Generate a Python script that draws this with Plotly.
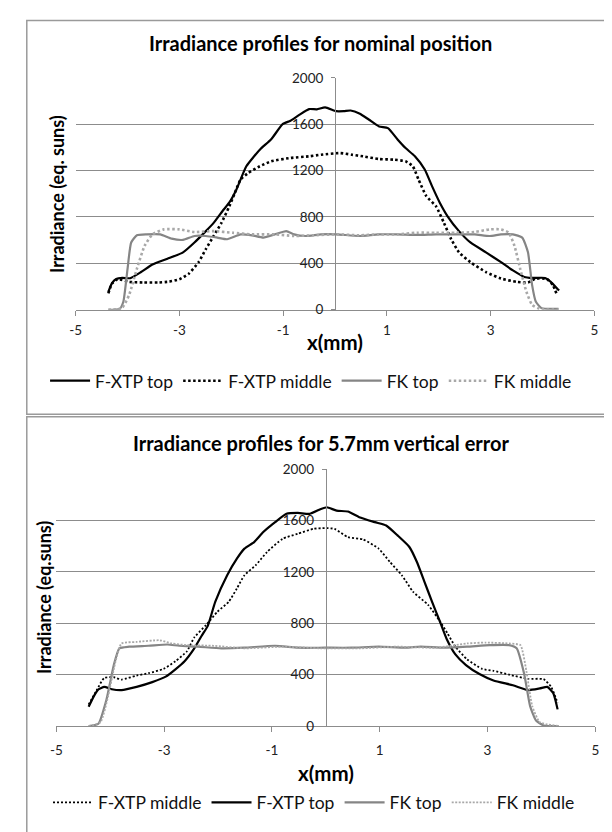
import plotly.graph_objects as go

W, H = 612, 832

# ---------------- Chart 1: nominal position ----------------
n_title = "Irradiance profiles for nominal position"
n_ytitle = "Irradiance (eq. suns)"

n_fxtp_top_x = [-4.37, -4.30, -4.22, -4.10, -3.95, -3.74, -3.52, -3.23, -2.93, -2.71, -2.49, -2.34, -2.15,
                -2.04, -1.90, -1.71, -1.45, -1.23, -1.01, -0.86, -0.69, -0.50, -0.35, -0.19, 0.02, 0.17,
                0.30, 0.48, 0.65, 0.85, 1.02, 1.21, 1.36, 1.54, 1.73, 1.87, 2.02, 2.17, 2.39, 2.61,
                2.91, 3.20, 3.43, 3.65, 3.80, 4.05, 4.16, 4.28, 4.32]
n_fxtp_top_y = [155, 230, 265, 274, 272, 325, 390, 440, 495, 580, 678, 749, 862,
                923, 1037, 1237, 1380, 1470, 1600, 1630, 1680, 1730, 1728, 1745, 1712, 1712,
                1718, 1690, 1640, 1580, 1566, 1466, 1394, 1323, 1209, 1066, 923, 806, 678, 580,
                495, 410, 339, 283, 274, 274, 240, 184, 165]

n_fxtp_mid_x = [-4.37, -4.30, -4.19, -3.97, -3.70, -3.40, -3.20, -3.00, -2.82, -2.63, -2.49, -2.34, -2.19,
                -2.04, -1.93, -1.82, -1.67, -1.45, -1.23, -0.86, -0.49, -0.27, 0.10, 0.32, 0.54, 0.84,
                1.13, 1.36, 1.50, 1.61, 1.76, 1.95, 2.10, 2.24, 2.39, 2.61, 2.91, 3.20, 3.50, 3.72,
                3.87, 4.09, 4.20, 4.28]
n_fxtp_mid_y = [141, 226, 263, 240, 235, 235, 242, 263, 311, 410, 523, 636, 749,
                890, 1009, 1123, 1180, 1237, 1280, 1309, 1323, 1337, 1351, 1337, 1323, 1300,
                1294, 1280, 1237, 1123, 980, 890, 749, 608, 495, 410, 325, 269, 240, 235,
                269, 263, 212, 127]

n_fk_top_x = [-4.37, -4.15, -4.08, -4.00, -3.93, -3.82, -3.63, -3.37, -3.15, -2.93, -2.71, -2.49, -2.27,
              -2.08, -1.82, -1.60, -1.38, -1.16, -0.94, -0.79, -0.57, -0.27, 0.03, 0.47, 0.84, 1.21,
              1.58, 1.95, 2.32, 2.69, 2.98, 3.20, 3.43, 3.61, 3.72, 3.80, 3.87, 3.98, 4.31]
n_fk_top_y = [0, 8, 71, 353, 580, 642, 650, 650, 613, 602, 636, 636, 622,
              608, 650, 642, 622, 650, 678, 650, 636, 650, 650, 636, 650, 650,
              645, 650, 650, 650, 636, 650, 650, 622, 495, 212, 71, 14, 8]

n_fk_mid_x = [-4.37, -4.11, -3.97, -3.82, -3.67, -3.52, -3.30, -3.00, -2.71, -2.34, -1.97, -1.60, -1.16,
              -0.79, -0.42, 0.03, 0.47, 0.84, 1.21, 1.58, 1.95, 2.32, 2.69, 2.98, 3.20, 3.35, 3.46,
              3.57, 3.69, 3.80, 3.94, 4.31]
n_fk_mid_y = [0, 14, 127, 353, 551, 650, 693, 693, 670, 678, 664, 650, 650,
              636, 642, 650, 642, 650, 650, 664, 664, 664, 670, 693, 693, 664, 551,
              353, 155, 42, 8, 0]

# ---------------- Chart 2: 5.7mm vertical error ----------------
v_title = "Irradiance profiles for 5.7mm vertical error"
v_ytitle = "Irradiance (eq.suns)"

v_fxtp_mid_x = [-4.40, -4.25, -4.11, -3.93, -3.79, -3.51, -3.29, -3.01, -2.79, -2.58, -2.44, -2.22, -2.01,
                -1.80, -1.65, -1.51, -1.30, -1.09, -0.80, -0.52, -0.23, -0.02, 0.16, 0.41, 0.69, 0.98,
                1.19, 1.41, 1.62, 1.90, 2.12, 2.26, 2.40, 2.62, 2.90, 3.11, 3.40, 3.75, 4.04, 4.18, 4.30]
v_fxtp_mid_y = [168, 280, 375, 380, 362, 393, 412, 445, 505, 580, 690, 787, 890,
                968, 1071, 1174, 1252, 1355, 1458, 1497, 1535, 1541, 1535, 1471, 1453, 1381,
                1277, 1174, 1045, 942, 813, 720, 620, 520, 445, 430, 400, 368, 365, 305, 180]

v_fxtp_top_x = [-4.40, -4.30, -4.22, -4.11, -3.97, -3.79, -3.51, -3.22, -2.97, -2.79, -2.62, -2.44, -2.30,
                -2.19, -2.05, -1.83, -1.65, -1.51, -1.33, -1.16, -0.94, -0.73, -0.52, -0.30, -0.09, 0.02,
                0.20, 0.41, 0.62, 0.91, 1.12, 1.33, 1.55, 1.69, 1.83, 1.97, 2.12, 2.24, 2.40, 2.60,
                2.85, 3.11, 3.47, 3.75, 3.97, 4.11, 4.22, 4.30]
v_fxtp_top_y = [150, 235, 285, 305, 287, 280, 305, 342, 385, 442, 505, 605, 705,
                780, 968, 1174, 1303, 1381, 1432, 1510, 1587, 1652, 1659, 1652, 1690, 1703,
                1677, 1670, 1626, 1587, 1561, 1484, 1394, 1277, 1123, 968, 810, 680, 560, 475,
                405, 355, 318, 280, 293, 305, 255, 130]

v_fk_top_x = [-4.40, -4.22, -4.07, -3.93, -3.83, -3.65, -3.29, -2.94, -2.72, -2.37, -1.94, -1.51, -0.94,
              -0.52, -0.02, 0.48, 0.98, 1.48, 1.76, 2.19, 2.62, 3.04, 3.40, 3.54, 3.68, 3.79, 3.90,
              4.04, 4.32]
v_fk_top_y = [0, 18, 205, 480, 605, 618, 625, 635, 625, 618, 605, 610, 625,
              610, 610, 610, 618, 610, 618, 610, 618, 630, 630, 605, 405, 155, 43,
              5, 0]

v_fk_mid_x = [-4.40, -4.18, -4.04, -3.90, -3.79, -3.51, -3.08, -2.86, -2.58, -2.08, -1.51, -0.80, -0.09,
              0.62, 1.33, 2.05, 2.62, 2.97, 3.40, 3.61, 3.72, 3.83, 3.97, 4.32]
v_fk_mid_y = [0, 30, 230, 505, 643, 655, 668, 643, 630, 625, 605, 618, 605,
              605, 618, 610, 643, 650, 643, 630, 430, 155, 30, 0]

x_ticks = [-5, -3, -1, 1, 3, 5]
y_ticks = [0, 400, 800, 1200, 1600, 2000]

FONT = "Lato"
BLACK = "#000000"
GRAY = "#858585"
LGRAY = "#a8a8a8"
GRID = "#8c8c8c"

# pixel layout of the two plot areas
P1 = dict(l=62.7, r=590.0, t=63.0, b=299.5)
P2 = dict(l=43.0, r=591.0, t=462.0, b=724.0)


def fx(px):
    return px / W


def fy(py):
    return 1 - py / H


fig = go.Figure()

def add(x, y, name, color, width, dash, xa, ya, leg):
    fig.add_trace(go.Scatter(x=x, y=y, name=name, mode="lines",
                             line=dict(color=color, width=width, dash=dash, shape="spline", smoothing=0.5),
                             xaxis=xa, yaxis=ya, legend=leg))

add(n_fxtp_top_x, n_fxtp_top_y, "F-XTP top", BLACK, 2.2, "solid", "x", "y", "legend")
add(n_fxtp_mid_x, n_fxtp_mid_y, "F-XTP middle", BLACK, 2.6, "2.5px,2.5px", "x", "y", "legend")
add(n_fk_top_x, n_fk_top_y, "FK top", GRAY, 2.2, "solid", "x", "y", "legend")
add(n_fk_mid_x, n_fk_mid_y, "FK middle", LGRAY, 2.6, "2.5px,2.5px", "x", "y", "legend")

add(v_fxtp_mid_x, v_fxtp_mid_y, "F-XTP middle", BLACK, 1.8, "2px,2px", "x2", "y2", "legend2")
add(v_fxtp_top_x, v_fxtp_top_y, "F-XTP top", BLACK, 2.2, "solid", "x2", "y2", "legend2")
add(v_fk_top_x, v_fk_top_y, "FK top", GRAY, 2.2, "solid", "x2", "y2", "legend2")
add(v_fk_mid_x, v_fk_mid_y, "FK middle", LGRAY, 1.8, "2px,1.5px", "x2", "y2", "legend2")

tickfont = dict(family=FONT, size=13.5, color="#222")


def xaxis(P, ya, standoff):
    return dict(domain=[fx(P["l"]), fx(P["r"])], anchor=ya, range=[-5, 5],
                tickmode="array", tickvals=x_ticks, ticktext=[str(v) for v in x_ticks],
                showgrid=False, zeroline=False, showline=True, linecolor=GRID, linewidth=1,
                ticks="outside", ticklen=5, tickcolor=GRID, tickfont=tickfont,
                ticklabelstandoff=standoff, fixedrange=True)


def yaxis(P):
    return dict(domain=[fy(P["b"]), fy(P["t"])], anchor="free",
                position=fx((P["l"] + P["r"]) / 2), range=[0, 2000],
                tickmode="array", tickvals=y_ticks, ticktext=[str(v) for v in y_ticks],
                showgrid=True, gridcolor=GRID, gridwidth=1, zeroline=False,
                showline=True, linecolor=GRID, linewidth=1,
                ticks="outside", ticklen=4, tickcolor=GRID, tickfont=tickfont,
                ticklabelstandoff=5, fixedrange=True)


legfont = dict(family=FONT, size=17.5, color="#111")
TSIZE = 20
YSIZE = 18

annotations = [
    dict(text="<b>%s</b>" % n_title, x=fx(312), y=fy(28), xref="paper", yref="paper",
         showarrow=False, font=dict(family=FONT, size=TSIZE, color="#000"), xanchor="center", yanchor="middle"),
    dict(text="<b>%s</b>" % v_title, x=fx(312), y=fy(435), xref="paper", yref="paper",
         showarrow=False, font=dict(family=FONT, size=TSIZE, color="#000"), xanchor="center", yanchor="middle"),
    dict(text="<b>%s</b>" % n_ytitle, x=fx(43), y=fy((P1["t"] + P1["b"]) / 2), xref="paper", yref="paper",
         showarrow=False, textangle=-90, font=dict(family=FONT, size=YSIZE, color="#000"),
         xanchor="center", yanchor="middle"),
    dict(text="<b>%s</b>" % v_ytitle, x=fx(30), y=fy((P2["t"] + P2["b"]) / 2), xref="paper", yref="paper",
         showarrow=False, textangle=-90, font=dict(family=FONT, size=YSIZE, color="#000"),
         xanchor="center", yanchor="middle"),
    dict(text="<b>x(mm)</b>", x=fx((P1["l"] + P1["r"]) / 2), y=fy(332), xref="paper", yref="paper",
         showarrow=False, font=dict(family=FONT, size=20.5, color="#000"), xanchor="center", yanchor="middle"),
    dict(text="<b>x(mm)</b>", x=fx((P2["l"] + P2["r"]) / 2), y=fy(772), xref="paper", yref="paper",
         showarrow=False, font=dict(family=FONT, size=20.5, color="#000"), xanchor="center", yanchor="middle"),
]

shapes = [
    dict(type="rect", xref="paper", yref="paper", x0=fx(13), x1=fx(640), y0=fy(406), y1=fy(4.5),
         line=dict(color="#9a9a9a", width=1.5), fillcolor="rgba(0,0,0,0)"),
    dict(type="rect", xref="paper", yref="paper", x0=fx(13), x1=fx(640), y0=fy(860), y1=fy(408.5),
         line=dict(color="#9a9a9a", width=1.5), fillcolor="rgba(0,0,0,0)"),
]

fig.update_layout(
    width=W, height=H, margin=dict(l=0, r=0, t=0, b=0),
    paper_bgcolor="white", plot_bgcolor="white",
    xaxis=xaxis(P1, "y", 3), yaxis=yaxis(P1),
    xaxis2=xaxis(P2, "y2", 7), yaxis2=yaxis(P2),
    legend=dict(orientation="h", x=fx(302), y=fy(372), xanchor="center", yanchor="middle",
                font=legfont, bgcolor="rgba(0,0,0,0)", itemwidth=40, tracegroupgap=0),
    legend2=dict(orientation="h", x=fx(305), y=fy(802), xanchor="center", yanchor="middle",
                 font=legfont, bgcolor="rgba(0,0,0,0)", itemwidth=40, tracegroupgap=0),
    annotations=annotations, shapes=shapes, showlegend=True,
)

fig.write_html("out.html")
